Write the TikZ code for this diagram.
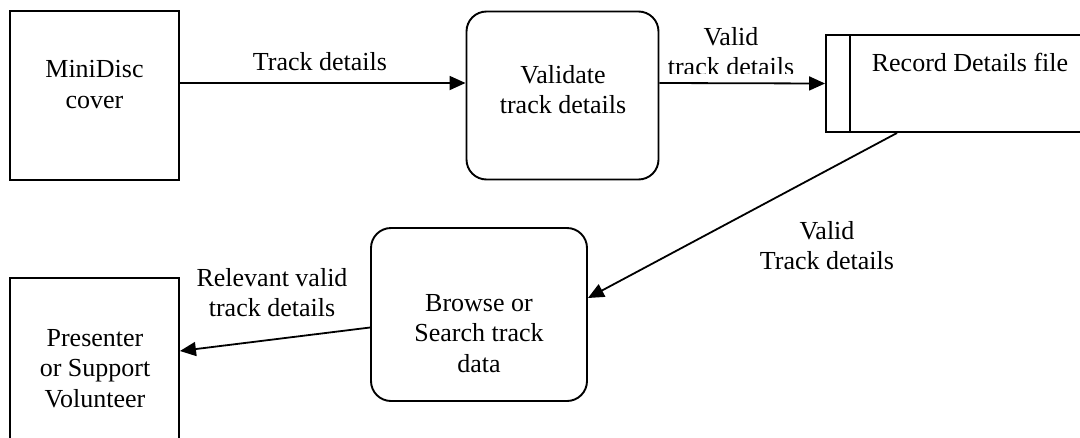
\documentclass[tikz,border=0pt]{standalone}
\usepackage{fontspec}
\setmainfont{Liberation Serif}
\usetikzlibrary{arrows.meta}
\begin{document}
\begin{tikzpicture}[x=1pt,y=-1pt,
  every node/.style={font=\fontsize{26}{30.5}\selectfont},
  lbl/.style={align=center, anchor=base, inner sep=0pt},
  box/.style={draw, line width=1.9pt, inner sep=0pt},
  proc/.style={box, rounded corners=20pt},
  flow/.style={line width=1.8pt, -{Triangle[length=16pt,width=14pt]}}
]
% page frame
\clip (0,0) rectangle (1080,437);

% external entities, processes and the data store
\node[box, minimum width=169pt, minimum height=169pt] (mini) at (94.5,95.5) {};
\node[proc, minimum width=192pt, minimum height=168pt] (val) at (562.5,95.5) {};
\node[box, minimum width=264pt, minimum height=97pt] (file) at (958,83.5) {};
\draw[line width=1.9pt] ([xshift=24.5pt]file.north west) -- ([xshift=24.5pt]file.south west);
\node[proc, minimum width=216pt, minimum height=173pt] (browse) at (479,314.5) {};
\node[box, minimum width=169pt, minimum height=192pt] (pres) at (94.5,374) {};

% box texts (anchored at the baseline of the last line)
\node[lbl] (tmini) at (94.5,108) {MiniDisc\\cover};
\node[lbl] (tval) at (563,113.5) {Validate\\track details};
\node[lbl] (tfile) at (970,71) {Record Details file};
\node[lbl] (tbrowse) at (479,372) {Browse or\\Search track\\data};
\node[lbl] (tpres) at (95,407) {Presenter\\or Support\\Volunteer};

% data flows
\draw[flow] ([yshift=12.5pt]mini.east) -- ([yshift=12.5pt]val.west);
\draw[flow] ([yshift=12.5pt]val.east) -- (file.west);
\coordinate (fileout) at ([xshift=72pt]file.south west);
\draw[flow] (fileout) -- ([yshift=16.5pt]browse.east);
\draw[flow] ([yshift=-13pt]browse.west) -- ([yshift=23pt]pres.east);

% flow labels
\node[lbl] (ltrack) at (320,70) {Track details};
\begin{scope}
  \clip (640,0) rectangle (820,73.3);
  \node[lbl] (lvalid) at (731,75.5) {Valid\\track details};
\end{scope}
\node[lbl] (lstore) at (827,269.5) {Valid\\Track details};
\node[lbl] (lrel) at (272,316.5) {Relevant valid\\track details};
\end{tikzpicture}
\end{document}
